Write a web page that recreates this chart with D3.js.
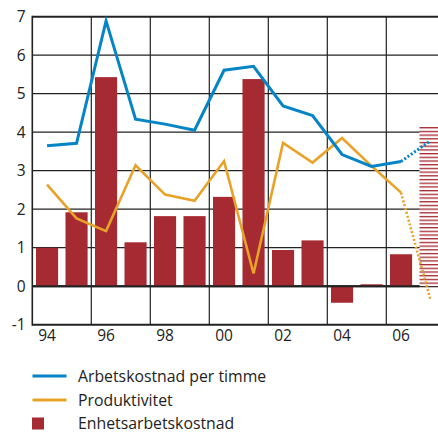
<!DOCTYPE html>
<html><head><meta charset="utf-8">
<script src="https://cdn.jsdelivr.net/npm/d3@7"></script>
<style>
html,body{margin:0;padding:0;background:#fff;overflow:hidden}
svg{display:block}
text{font-family:"Open Sans","Noto Sans",sans-serif;fill:#222}
</style></head><body>
<script>
const years = ["94","95","96","97","98","99","00","01","02","03","04","05","06","07"];
const tickYears = ["94","96","98","00","02","04","06"];
const yTicks = [-1,0,1,2,3,4,5,6,7];
const unitLabour = [1.0,1.92,5.43,1.14,1.82,1.82,2.32,5.38,0.94,1.19,-0.43,0.05,0.83,4.14];
const hourlyCost = [3.65,3.71,6.89,4.34,4.21,4.05,5.61,5.71,4.68,4.43,3.42,3.11,3.24,3.78];
const productivity = [2.64,1.76,1.43,3.14,2.38,2.22,3.25,0.33,3.72,3.21,3.85,3.12,2.43,-0.36];
const seriesNames = ["Arbetskostnad per timme","Produktivitet","Enhetsarbetskostnad"];
const forecastFrom = 12; // index of "06": later points are forecasts

const W=438,H=433;
const colBlue="#0584c6", colOrange="#e8a228", colRed="#a62a31", colGrid="#222";
const svg=d3.select("body").append("svg").attr("width",W).attr("height",H);

const x=d3.scaleBand().domain(years).range([32.3,445.3]).paddingInner(0.25).paddingOuter(0.125);
const y=d3.scaleLinear().domain([-1,7]).range([324.7,16.7]);
const cx=d=>x(d)+x.bandwidth()/2;
const bandStart=d=>x(d)-x.step()*x.paddingInner()/2;

// hatch pattern
const defs=svg.append("defs");
const pat=defs.append("pattern").attr("id","hatch").attr("patternUnits","userSpaceOnUse")
  .attr("width",10).attr("height",3.7).attr("y",y(0));
pat.append("rect").attr("width",10).attr("height",3.7).attr("fill","#fff");
pat.append("rect").attr("y",0).attr("width",10).attr("height",1.3).attr("fill",colRed);

// gridlines
const g=svg.append("g");
g.selectAll("line.h").data(yTicks).join("line")
  .attr("x1",32.3).attr("x2",W).attr("y1",d=>y(d)).attr("y2",d=>y(d))
  .attr("stroke",colGrid).attr("stroke-width",d=>(d===7||d===-1||d===0)?2:1.2);
g.selectAll("line.v").data(tickYears.slice(1)).join("line")
  .attr("x1",d=>bandStart(d)).attr("x2",d=>bandStart(d)).attr("y1",y(7)).attr("y2",y(-1))
  .attr("stroke",colGrid).attr("stroke-width",1.2);
g.append("line").attr("x1",32.3).attr("x2",32.3).attr("y1",y(7)-1).attr("y2",y(-1)+1)
  .attr("stroke",colGrid).attr("stroke-width",1.6);

// bars
svg.append("g").selectAll("rect").data(years).join("rect")
  .attr("x",d=>x(d)).attr("width",x.bandwidth())
  .attr("y",(d,i)=>y(Math.max(0,unitLabour[i])))
  .attr("height",(d,i)=>Math.abs(y(unitLabour[i])-y(0)))
  .attr("fill",(d,i)=>i>=years.length-1?"url(#hatch)":colRed);

// zero line on top of bars
svg.append("line").attr("x1",32.3).attr("x2",x("07")).attr("y1",y(0)).attr("y2",y(0))
  .attr("stroke",colGrid).attr("stroke-width",2);

// lines
const line=d3.line().x(d=>cx(d[0])).y(d=>y(d[1]));
function drawSeries(vals,color,w){
  const pts=years.map((d,i)=>[d,vals[i]]);
  svg.append("path").datum(pts.slice(0,forecastFrom+1)).attr("d",line)
    .attr("fill","none").attr("stroke",color).attr("stroke-width",w).attr("stroke-linejoin","miter");
  svg.append("path").datum(pts.slice(forecastFrom)).attr("d",line)
    .attr("fill","none").attr("stroke",color).attr("stroke-width",w).attr("stroke-dasharray","2,2");
}
drawSeries(productivity,colOrange,2.6);
drawSeries(hourlyCost,colBlue,3);

// axis labels
svg.append("g").selectAll("text").data(yTicks).join("text")
  .attr("x",25.5).attr("y",d=>y(d)+5.5).attr("text-anchor","end")
  .attr("font-size",15.5).text(d=>d);
svg.append("g").selectAll("text").data(tickYears).join("text")
  .attr("x",d=>cx(d)).attr("y",340.5).attr("text-anchor","middle")
  .attr("font-size",15.5).text(d=>d);

// legend
const leg=svg.append("g");
const ly=[376,400,423.5];
leg.append("line").attr("x1",32.5).attr("x2",66.5).attr("y1",ly[0]).attr("y2",ly[0]).attr("stroke",colBlue).attr("stroke-width",3);
leg.append("line").attr("x1",32.5).attr("x2",66.5).attr("y1",ly[1]).attr("y2",ly[1]).attr("stroke",colOrange).attr("stroke-width",3);
leg.append("rect").attr("x",32).attr("y",ly[2]-6).attr("width",12).attr("height",12).attr("fill",colRed);
leg.selectAll("text").data(seriesNames).join("text")
  .attr("x",78).attr("y",(d,i)=>ly[i]+5.5).attr("font-size",15.8).text(d=>d);
</script>
</body></html>
